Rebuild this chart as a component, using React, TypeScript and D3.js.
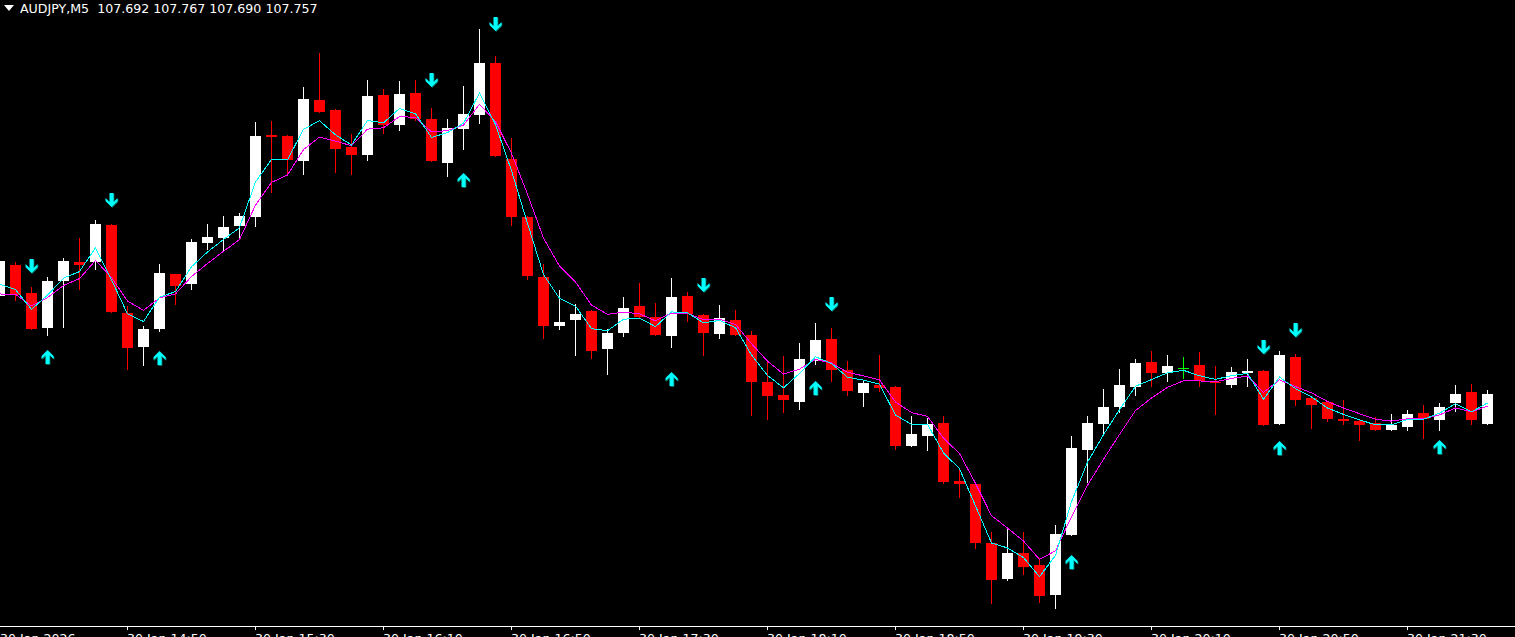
import React from "react";
import * as d3 from "d3";

// ---- data (bar index -1 .. 92, M5 bars from 30 Jan 14:10) ----
const symbolLabel = "AUDJPY,M5";
const lastQuote = ["107.692", "107.767", "107.690", "107.757"];

const opens = [
  107.970, 108.037, 107.976, 107.900, 108.002, 108.043, 108.043, 108.124, 107.933, 107.859,
  107.898, 108.017, 107.996, 108.085, 108.095, 108.121, 108.141, 108.319, 108.316, 108.262,
  108.394, 108.373, 108.293, 108.275, 108.405, 108.340, 108.410, 108.353, 108.258, 108.332,
  108.362, 108.475, 108.267, 108.141, 108.011, 107.905, 107.918, 107.937, 107.855, 107.890,
  107.948, 107.924, 107.883, 107.970, 107.929, 107.887, 107.918, 107.885, 107.783, 107.755,
  107.740, 107.829, 107.877, 107.809, 107.760, 107.777, 107.772, 107.645, 107.666, 107.695,
  107.569, 107.562, 107.434, 107.356, 107.413, 107.387, 107.322, 107.452, 107.636, 107.692,
  107.729, 107.772, 107.827, 107.803, 107.814, 107.820, 107.783, 107.777, 107.803, 107.807,
  107.692, 107.838, 107.749, 107.740, 107.703, 107.699, 107.695, 107.679, 107.686, 107.716,
  107.701, 107.738, 107.762, 107.692,
];
const highs = [
  108.050, 108.043, 107.989, 108.011, 108.052, 108.095, 108.134, 108.126, 107.948, 107.905,
  108.039, 108.017, 108.093, 108.126, 108.143, 108.150, 108.347, 108.349, 108.319, 108.423,
  108.496, 108.375, 108.321, 108.438, 108.418, 108.436, 108.438, 108.377, 108.353, 108.425,
  108.548, 108.490, 108.312, 108.143, 108.039, 107.983, 107.952, 107.939, 107.898, 107.967,
  107.998, 107.955, 108.009, 107.978, 107.931, 107.950, 107.939, 107.894, 107.831, 107.840,
  107.868, 107.911, 107.900, 107.829, 107.785, 107.842, 107.774, 107.710, 107.705, 107.710,
  107.597, 107.565, 107.458, 107.465, 107.458, 107.402, 107.474, 107.666, 107.710, 107.768,
  107.812, 107.833, 107.850, 107.842, 107.838, 107.848, 107.818, 107.816, 107.833, 107.809,
  107.850, 107.844, 107.751, 107.742, 107.744, 107.701, 107.708, 107.714, 107.723, 107.733,
  107.738, 107.777, 107.779, 107.767,
];
const lows = [
  107.965, 107.959, 107.896, 107.883, 107.900, 107.983, 108.026, 107.933, 107.809, 107.818,
  107.892, 107.950, 107.983, 108.069, 108.065, 108.095, 108.119, 108.193, 108.232, 108.232,
  108.366, 108.236, 108.232, 108.262, 108.321, 108.327, 108.349, 108.260, 108.227, 108.286,
  108.342, 108.271, 108.121, 108.004, 107.877, 107.896, 107.840, 107.833, 107.799, 107.881,
  107.922, 107.883, 107.857, 107.913, 107.840, 107.877, 107.883, 107.710, 107.701, 107.716,
  107.723, 107.820, 107.783, 107.753, 107.729, 107.762, 107.636, 107.642, 107.634, 107.562,
  107.532, 107.421, 107.302, 107.352, 107.365, 107.304, 107.291, 107.450, 107.564, 107.669,
  107.716, 107.753, 107.772, 107.783, 107.790, 107.772, 107.712, 107.770, 107.772, 107.688,
  107.690, 107.731, 107.682, 107.697, 107.690, 107.655, 107.677, 107.677, 107.677, 107.660,
  107.677, 107.718, 107.690, 107.690,
];
const closes = [
  108.045, 107.972, 107.898, 108.002, 108.045, 108.037, 108.126, 107.935, 107.857, 107.898,
  108.020, 107.991, 108.087, 108.097, 108.119, 108.143, 108.316, 108.314, 108.264, 108.397,
  108.368, 108.288, 108.275, 108.403, 108.340, 108.407, 108.353, 108.262, 108.334, 108.364,
  108.475, 108.273, 108.141, 108.013, 107.905, 107.913, 107.931, 107.850, 107.890, 107.944,
  107.924, 107.885, 107.967, 107.931, 107.890, 107.922, 107.885, 107.783, 107.753, 107.744,
  107.833, 107.874, 107.809, 107.764, 107.781, 107.770, 107.645, 107.671, 107.692, 107.567,
  107.562, 107.434, 107.354, 107.413, 107.382, 107.320, 107.454, 107.640, 107.695, 107.729,
  107.777, 107.825, 107.803, 107.818, 107.814, 107.785, 107.781, 107.805, 107.807, 107.690,
  107.842, 107.744, 107.733, 107.703, 107.699, 107.690, 107.679, 107.690, 107.714, 107.703,
  107.729, 107.757, 107.701, 107.757,
];
const firstBar = -1;

// moving averages (exponential, on close) – values before the first visible bar
const fastPeriod = 3;
const slowPeriod = 5;
const fastSeed = 107.995;
const slowSeed = 107.974;

// signal arrows: bar index and price of the glyph's top edge
const downArrowBars = [1, 6, 26, 30, 43, 51, 78, 80];
const downArrowPrices = [108.050, 108.193, 108.453, 108.574, 108.009, 107.967, 107.874, 107.911];
const upArrowBars = [2, 9, 28, 41, 50, 66, 79, 89];
const upArrowPrices = [107.853, 107.851, 108.236, 107.805, 107.785, 107.409, 107.655, 107.658];

// time axis
const tickBars = [-1, 7, 15, 23, 31, 39, 47, 55, 63, 71, 79, 87];
const tickLabels = [
  "30 Jan 2026", "30 Jan 14:50", "30 Jan 15:30", "30 Jan 16:10", "30 Jan 16:50", "30 Jan 17:30",
  "30 Jan 18:10", "30 Jan 18:50", "30 Jan 19:30", "30 Jan 20:10", "30 Jan 20:50", "30 Jan 21:30",
];

const W = 1515;
const H = 637;
const AXIS_Y = 626;
const FONT = "'DejaVu Sans', Verdana, sans-serif";

function ema(values: number[], period: number, seed: number): number[] {
  const a = 2 / (period + 1);
  const out: number[] = [];
  let prev = seed;
  values.forEach((v, i) => {
    if (i === 0) {
      out.push(seed);
      prev = seed;
    } else {
      prev = prev + a * (v - prev);
      out.push(prev);
    }
  });
  return out;
}

export default function App() {
  const n = closes.length;
  const lastBar = firstBar + n - 1;
  const x = d3.scaleLinear().domain([firstBar, lastBar]).range([-0.5, -0.5 + 16 * (n - 1)]);
  const y = d3.scaleLinear().domain([107.2546, 108.611]).range([AXIS_Y, 0]);

  const fast = ema(closes, fastPeriod, fastSeed);
  const slow = ema(closes, slowPeriod, slowSeed);
  const line = d3
    .line<number>()
    .x((_, i) => x(firstBar + i))
    .y((v) => y(v));

  const candles = closes.map((c, i) => {
    const o = opens[i];
    const cx = x(firstBar + i);
    const color = c > o ? "#ffffff" : c < o ? "#ff0000" : "#00ff00";
    const top = Math.round(y(Math.max(o, c)));
    const bot = Math.round(y(Math.min(o, c)));
    const hi = Math.round(y(highs[i]));
    const lo = Math.round(y(lows[i]));
    return (
      <g key={i}>
        <rect x={cx - 0.5} y={hi} width={1} height={Math.max(1, lo - hi)} fill={color} />
        <rect x={cx - 5.5} y={top} width={11} height={Math.max(1, bot - top)} fill={color} />
      </g>
    );
  });

  // arrow glyph, 12 wide and 14 tall; dir = 1 points up, -1 points down
  const arrowPath = (cx: number, t: number, dir: number) => {
    const p = (dx: number, dy: number) => `${cx + dx},${dir > 0 ? t + dy : t + 14 - dy}`;
    return `M${p(0, 0)} L${p(6, 6)} L${p(6, 9)} L${p(2, 5)} L${p(2, 14)} L${p(-2, 14)} L${p(-2, 5)} L${p(-6, 9)} L${p(-6, 6)} Z`;
  };

  const arrows: JSX.Element[] = [];
  upArrowBars.forEach((b, i) => {
    const cx = x(b);
    const t = Math.round(y(upArrowPrices[i]));
    arrows.push(
      <g key={"u" + i}>
        <path d={arrowPath(cx + 0.8, t + 0.8, 1)} fill="#008c7a" />
        <path d={arrowPath(cx, t, 1)} fill="#00ffff" />
      </g>
    );
  });
  downArrowBars.forEach((b, i) => {
    const cx = x(b);
    const t = Math.round(y(downArrowPrices[i]));
    arrows.push(
      <g key={"d" + i}>
        <path d={arrowPath(cx + 0.8, t + 0.8, -1)} fill="#008c7a" />
        <path d={arrowPath(cx, t, -1)} fill="#00ffff" />
      </g>
    );
  });

  return (
    <div style={{ position: "fixed", left: 0, top: 0, width: W, height: H, background: "#000" }}>
      <svg width={W} height={H} style={{ display: "block", background: "#000" }}>
        <rect x={0} y={0} width={W} height={H} fill="#000" />
        {candles}
        <path d={line(slow) || ""} fill="none" stroke="#ff00ff" strokeWidth={1} shapeRendering="crispEdges" />
        <path d={line(fast) || ""} fill="none" stroke="#00ffff" strokeWidth={1} shapeRendering="crispEdges" />
        {arrows}
        {/* header */}
        <path d="M4,5 L14,5 L9,11 Z" fill="#ffffff" />
        <text x={20} y={13} fill="#ffffff" fontFamily={FONT} fontSize={12.6} style={{ whiteSpace: "pre" }}>
          {symbolLabel + "  " + lastQuote.join(" ")}
        </text>
        {/* time axis */}
        <line x1={0} x2={W} y1={AXIS_Y + 0.5} y2={AXIS_Y + 0.5} stroke="#ffffff" strokeWidth={1} />
        {tickBars.map((b, i) => {
          const tx = Math.max(0, x(b));
          return (
            <g key={"t" + i}>
              {i > 0 && <line x1={tx} x2={tx} y1={AXIS_Y} y2={AXIS_Y + 4} stroke="#ffffff" strokeWidth={1} />}
              <text x={i === 0 ? 0 : tx - 0.5} y={AXIS_Y + 17} fill="#ffffff" fontFamily={FONT} fontSize={12.6}>
                {tickLabels[i]}
              </text>
            </g>
          );
        })}
      </svg>
    </div>
  );
}
